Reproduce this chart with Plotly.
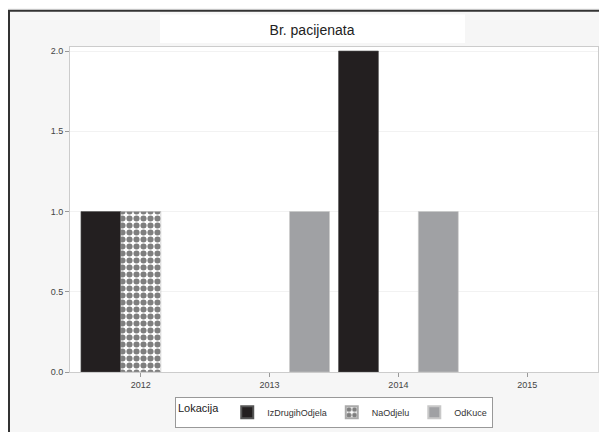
import plotly.graph_objects as go

years = [2012, 2013, 2014, 2015]
series_names = ["IzDrugihOdjela", "NaOdjelu", "OdKuce"]
iz_drugih = [1, None, 2, None]
na_odjelu = [1, None, None, None]
od_kuce = [None, 1, 1, None]
y_ticks = [0.0, 0.5, 1.0, 1.5, 2.0]
y_tick_labels = ["0.0", "0.5", "1.0", "1.5", "2.0"]

# page body has an 8px margin, so screen px = figure px + S
S = 8
W, H = 607, 432
# desired plot box in screen pixels
PL, PR, PT, PB = 70, 598, 47, 378
L, T = PL - S, PT - S
R = W - (PR - S)
B = H - (PB - S)
pw, ph = W - L - R, H - T - B

def px_x(p):  # screen px -> paper x
    return (p - S - L) / pw

def px_y(p):  # screen px -> paper y
    return (H - B - (p - S)) / ph

fig = go.Figure()
fig.add_trace(go.Bar(
    x=years, y=iz_drugih, name=series_names[0],
    marker=dict(color="#231f20", line=dict(color="#555555", width=0.6)),
))
fig.add_trace(go.Bar(
    x=years, y=na_odjelu, name=series_names[1],
    marker=dict(color="white", line=dict(color="#aaaaaa", width=0.5),
                pattern=dict(shape=".", fgcolor="#000000", bgcolor="white",
                             size=7, solidity=0.6, fillmode="overlay")),
))
fig.add_trace(go.Bar(
    x=years, y=od_kuce, name=series_names[2],
    marker=dict(color="#a0a1a4", line=dict(color="#c8c8c8", width=0.6)),
))

# outer frame and white title box
fig.add_shape(type="rect", xref="paper", yref="paper",
              x0=px_x(9), x1=px_x(604), y0=px_y(445), y1=px_y(10),
              line=dict(color="#333333", width=2), fillcolor="rgba(0,0,0,0)", layer="below")
fig.add_shape(type="rect", xref="paper", yref="paper",
              x0=px_x(160), x1=px_x(465), y0=px_y(43), y1=px_y(14),
              line=dict(width=0), fillcolor="white", layer="below")

title_y = (H - (30 - S)) / H

fig.update_layout(
    width=W, height=H,
    margin=dict(l=L, r=R, t=T, b=B),
    paper_bgcolor="#f6f6f6",
    plot_bgcolor="white",
    barmode="group", bargap=0.07, bargroupgap=0.0,
    font=dict(family="Liberation Sans, Arial, sans-serif", color="#333333"),
    title=dict(text="Br. pacijenata", x=(312 - S) / W, xanchor="center",
               y=title_y, yanchor="middle",
               font=dict(size=14, color="#222222")),
    showlegend=True,
    legend=dict(orientation="h", x=px_x(334), xanchor="center", xref="paper",
                y=px_y(419), yanchor="middle",
                title=dict(text="Lokacija", font=dict(size=11, color="#222222")),
                font=dict(size=9, family="Liberation Sans Narrow, Liberation Sans, sans-serif", color="#333333"),
                bgcolor="white", bordercolor="#999999", borderwidth=1,
                itemwidth=30, tracegroupgap=0, itemsizing="constant"),
    xaxis=dict(range=[2011.45, 2015.55], tickvals=years, ticktext=[str(y) for y in years],
               ticks="outside", ticklen=4, tickcolor="#999999",
               showline=True, linecolor="#cccccc", mirror=True,
               showgrid=False, zeroline=False, automargin=False,
               tickfont=dict(size=9, color="#444444")),
    yaxis=dict(range=[0, 2.025], tickvals=y_ticks, ticktext=y_tick_labels,
               ticks="outside", ticklen=4, tickcolor="#999999",
               showline=True, linecolor="#cccccc", mirror=True,
               showgrid=True, gridcolor="#f2f2f2", zeroline=False, automargin=False,
               tickfont=dict(size=9, color="#444444")),
)

fig.write_html("out.html")
